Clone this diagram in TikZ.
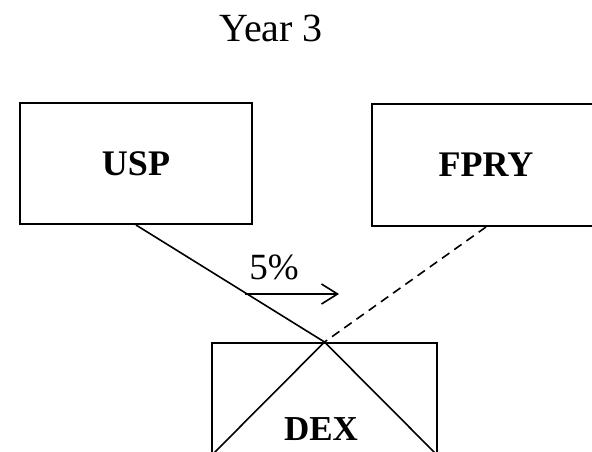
\documentclass[tikz,border=0pt]{standalone}
\usepackage{fontspec}
\setmainfont{Liberation Serif}
\usetikzlibrary{arrows.meta}
\begin{document}
\begin{tikzpicture}[x=1pt,y=-1pt,
  boxnode/.style={draw,line width=2pt,rectangle,inner sep=0pt,font=\fontsize{36}{40}\selectfont\bfseries},
  conn/.style={line width=1.6pt},
  dashconn/.style={line width=1.6pt,dash pattern=on 9pt off 6pt},
  plain/.style={inner sep=0pt}]
\clip (0,0) rectangle (592,452);
\node[plain,anchor=base,font=\fontsize{40}{44}\selectfont] (title) at (271,42) {Year 3};
\node[boxnode,minimum width=232pt,minimum height=121pt] (usp) at (136,163.5) {USP};
\node[boxnode,minimum width=228pt,minimum height=122pt] (fpry) at (486,165) {FPRY};
\node[boxnode,minimum width=225pt,minimum height=112pt] (dex) at (324.5,399) {};
\node[plain,anchor=base,font=\fontsize{35}{40}\selectfont\bfseries] (dexlabel) at (321,440) {DEX};
\draw[conn] (dex.north) -- (dex.south west);
\draw[conn] (dex.north) -- (dex.south east);
\draw[conn] (usp.south) -- (dex.north);
\draw[dashconn] (fpry.south) -- (dex.north);
\coordinate (arrs) at (245,294);
\coordinate (arre) at (339,294);
\draw[conn,-{Straight Barb[length=16pt,width=20pt,line width=1.6pt]}] (arrs) -- (arre);
\node[plain,anchor=base,font=\fontsize{37}{40}\selectfont] (pct) at (274,279) {5\%};
\end{tikzpicture}
\end{document}
